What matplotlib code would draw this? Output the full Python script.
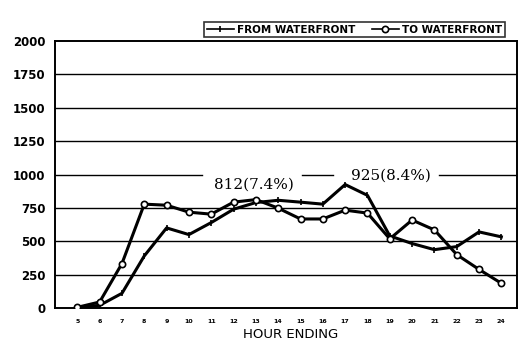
import matplotlib.pyplot as plt

hours = list(range(5, 25))
from_waterfront = [5, 20, 110, 390, 600, 550, 640, 740, 790, 807, 793, 778, 925, 844, 540, 483, 437, 460, 570, 533]
to_waterfront = [5, 45, 333, 778, 770, 718, 703, 793, 812, 748, 667, 667, 733, 711, 518, 659, 585, 400, 289, 185]
y_ticks = [0, 250, 500, 750, 1000, 1250, 1500, 1750, 2000]

fig = plt.figure(figsize=(5.31, 3.55), dpi=100)
ax = fig.add_axes([0.1036, 0.1324, 0.87, 0.752])

# grid lines; the 1000 line is broken where the labels sit
for y in y_ticks[1:-1]:
    if y == 1000:
        for x0, x1 in [(4.0, 10.6), (15.05, 16.45), (21.2, 24.7)]:
            ax.plot([x0, x1], [y, y], color='black', lw=1.0, zorder=1)
    else:
        ax.axhline(y, color='black', lw=1.0, zorder=1)

ax.plot(hours, from_waterfront, color='black', lw=2.2, marker='|', ms=4,
        mew=1.2, label='FROM WATERFRONT', zorder=3)
ax.plot(hours, to_waterfront, color='black', lw=2.2, marker='o', ms=4.5,
        mfc='white', mec='black', mew=1.2, label='TO WATERFRONT', zorder=4)

ax.text(12.93, 925, '812(7.4%)', family='DejaVu Serif', fontsize=11,
        ha='center', va='center')
ax.text(19.06, 995, '925(8.4%)', family='DejaVu Serif', fontsize=11,
        ha='center', va='center')

ax.set_xlim(4.0, 24.7)
ax.set_ylim(0, 2000)
ax.set_xticks(hours)
ax.set_xticklabels([str(h) for h in hours], fontsize=4.5, fontweight='bold')
ax.set_yticks(y_ticks)
ax.set_yticklabels([str(v) for v in y_ticks], fontsize=8.5, fontweight='bold')
ax.tick_params(length=0, pad=8)
ax.tick_params(axis='y', pad=7)
for s in ax.spines.values():
    s.set_linewidth(1.4)
ax.set_xlabel('HOUR ENDING', fontsize=9.5, labelpad=0)
ax.xaxis.set_label_coords(0.51, -0.075)

leg = ax.legend(loc='lower right', bbox_to_anchor=(0.985, 0.995), ncol=2,
                frameon=True, fancybox=False, handlelength=2.6,
                handletextpad=0.3, columnspacing=1.6, borderpad=0.25,
                prop={'weight': 'bold', 'size': 7.5})
leg.get_frame().set_edgecolor('black')
leg.get_frame().set_linewidth(1.2)
for line in leg.get_lines():
    line.set_linewidth(1.2)

fig.savefig('out.png', dpi=100)
